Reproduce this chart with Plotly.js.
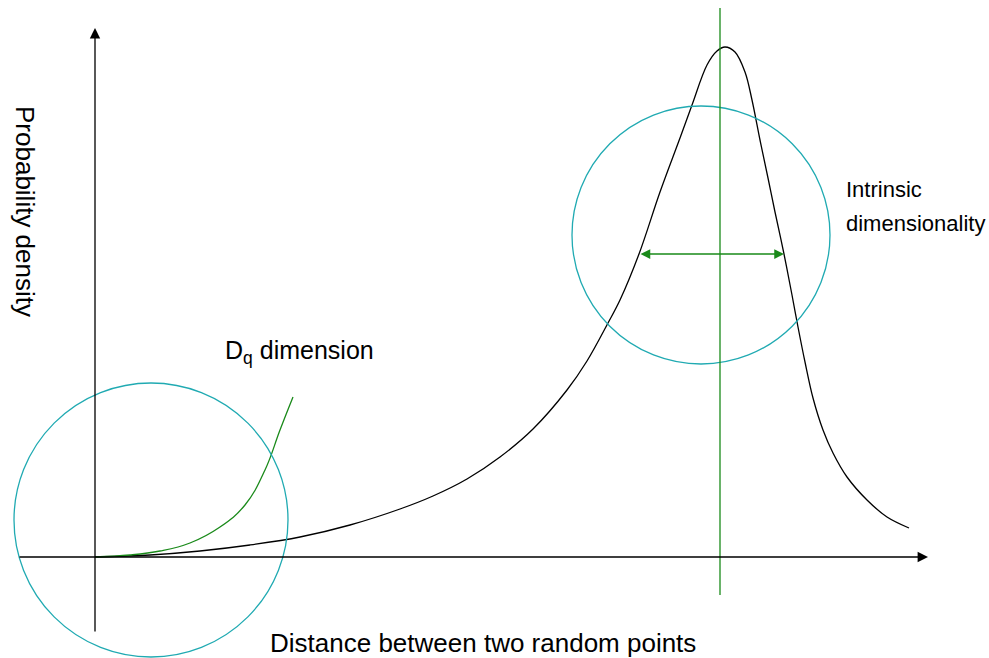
<!DOCTYPE html>
<html>
<head>
<meta charset="utf-8">
<script src="https://cdn.plot.ly/plotly-3.0.1.min.js"></script>
<style>
  html, body { margin: 0; padding: 0; background: #ffffff; }
  #chart { width: 989px; height: 658px; }
</style>
</head>
<body>
<div id="chart"></div>
<script>
// Distance distribution between random point pairs (schematic units, origin at axes crossing)
const distance = [0, 55, 105, 155, 205, 255, 305, 338, 372, 405, 438, 472, 492, 513, 525, 544, 565, 585, 597, 612, 622, 630, 640, 650, 657, 665, 673, 680, 689, 697, 703, 710, 718, 728, 738, 752, 772, 792, 814];
const density  = [0, 2, 6, 12, 20, 32, 48, 61, 78, 100, 128, 167, 196, 234, 257, 303, 365, 419, 452, 492, 506, 510, 505, 485, 457, 417, 379, 345, 303, 262, 230, 195, 159, 127, 104, 80, 57, 40, 29];

// Small-distance power-law regime (D_q dimension)
const dqDistance = [0, 35, 65, 95, 125, 150, 170, 185, 198];
const dqDensity  = [0, 2, 6, 14, 30, 52, 87, 127, 160];

// Mode of the distribution and the width arrow around it
const modeDistance = 625;
const widthLeft = 544, widthRight = 689, widthLevel = 303;

// Highlight circles: [centerX, centerY, radius]
const smallScaleCircle = [56, 37, 137];
const peakCircle = [606, 322, 129];

const labels = {
  xTitle: 'Distance between two random points',
  yTitle: 'Probability density',
  dq: 'D<sub>q</sub> dimension',
  intrinsic: ['Intrinsic', 'dimensionality']
};

const black = '#000000';
const green = '#1a8a1a';
const teal = '#20aab2';
const font = 'Liberation Sans, Arial, Helvetica, sans-serif';

const traces = [
  { x: distance, y: density, mode: 'lines', line: { color: black, width: 1.3, shape: 'spline', smoothing: 1 }, hoverinfo: 'skip' },
  { x: dqDistance, y: dqDensity, mode: 'lines', line: { color: green, width: 1.3, shape: 'spline', smoothing: 1.2 }, hoverinfo: 'skip' }
];

function circleShape(c) {
  return { type: 'circle', xref: 'x', yref: 'y', x0: c[0] - c[2], x1: c[0] + c[2], y0: c[1] - c[2], y1: c[1] + c[2], line: { color: teal, width: 1.3 } };
}

const shapes = [
  circleShape(smallScaleCircle),
  circleShape(peakCircle),
  { type: 'line', xref: 'x', yref: 'y', x0: modeDistance, x1: modeDistance, y0: -38, y1: 549, line: { color: green, width: 1.3 } }
];

const annotations = [
  // y axis arrow
  { x: 0, y: 529, ax: 0, ay: -76, xref: 'x', yref: 'y', axref: 'x', ayref: 'y', showarrow: true, arrowhead: 2, arrowsize: 1.6, arrowwidth: 1.3, arrowcolor: black, text: '' },
  // x axis arrow
  { x: 833, y: 0, ax: -77, ay: 0, xref: 'x', yref: 'y', axref: 'x', ayref: 'y', showarrow: true, arrowhead: 2, arrowsize: 1.6, arrowwidth: 1.3, arrowcolor: black, text: '' },
  // width of the peak
  { x: widthRight, y: widthLevel, ax: widthLeft, ay: widthLevel, xref: 'x', yref: 'y', axref: 'x', ayref: 'y', showarrow: true, arrowhead: 2, startarrowhead: 2, arrowside: 'end+start', arrowsize: 1.5, startarrowsize: 1.5, arrowwidth: 1.3, arrowcolor: green, text: '' },
  { x: -70, y: 346, xref: 'x', yref: 'y', text: labels.yTitle, textangle: 90, showarrow: false, font: { family: font, size: 26, color: black } },
  { x: 388, y: -86, xref: 'x', yref: 'y', text: labels.xTitle, showarrow: false, font: { family: font, size: 26, color: black } },
  { x: 128, y: 205, xref: 'x', yref: 'y', xanchor: 'left', text: labels.dq, showarrow: false, font: { family: font, size: 25, color: black } },
  { x: 749, y: 368, xref: 'x', yref: 'y', xanchor: 'left', text: labels.intrinsic[0], showarrow: false, font: { family: font, size: 22, color: black } },
  { x: 749, y: 334, xref: 'x', yref: 'y', xanchor: 'left', text: labels.intrinsic[1], showarrow: false, font: { family: font, size: 22, color: black } }
];

const layout = {
  width: 989, height: 658,
  margin: { l: 0, r: 0, t: 0, b: 0 },
  paper_bgcolor: '#ffffff', plot_bgcolor: '#ffffff',
  showlegend: false,
  xaxis: { range: [-95, 894], visible: false, fixedrange: true },
  yaxis: { range: [-101, 557], visible: false, fixedrange: true },
  shapes: shapes,
  annotations: annotations
};

Plotly.newPlot('chart', traces, layout, { staticPlot: true, displayModeBar: false });
</script>
</body>
</html>
